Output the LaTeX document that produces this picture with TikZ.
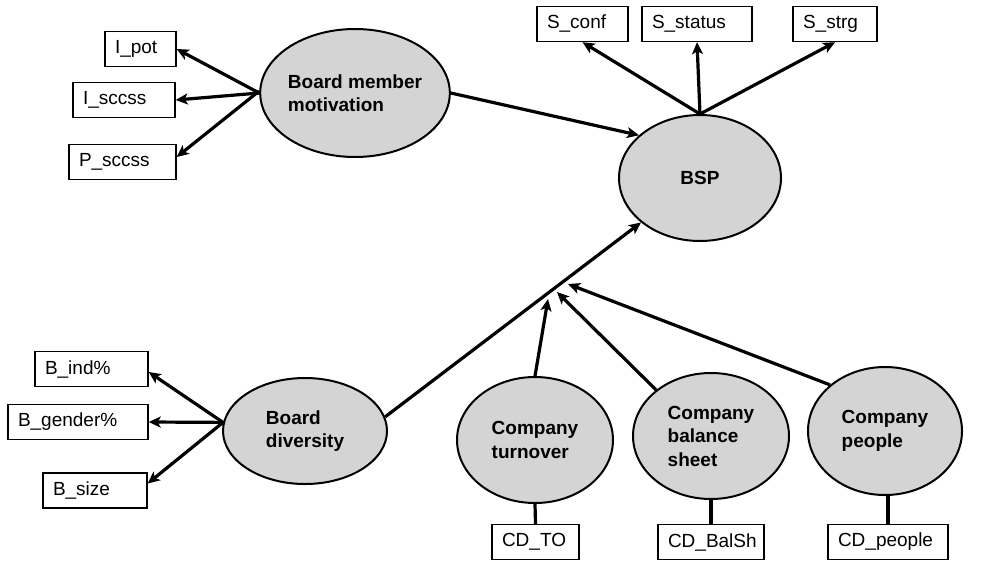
\documentclass[tikz,border=0pt]{standalone}
\usepackage{fontspec}
\setmainfont{Liberation Sans}
\usetikzlibrary{shapes.geometric,arrows.meta}

\definecolor{latentfill}{RGB}{212,212,212}

\tikzset{
  latent/.style={ellipse, draw=black, line width=2pt, fill=latentfill,
    inner sep=0pt, align=left, font=\fontsize{19}{23.5}\selectfont\bfseries},
  indicator/.style={rectangle, draw=black, line width=1.4pt, fill=white,
    inner xsep=10pt, inner ysep=0pt, minimum height=35pt, align=left,
    font=\fontsize{19}{22}\selectfont},
  link/.style={line width=3.2pt, -{Stealth[length=12pt,width=11pt,inset=3pt]}},
  tie/.style={line width=3.2pt},
}

\begin{document}
\begin{tikzpicture}[x=1pt, y=-1pt]
  \useasboundingbox (0,0) rectangle (984,563);

  % latent constructs
  \node[latent, minimum width=184pt, minimum height=128pt] (bmm) at (355,93) {Board member\\motivation};
  \node[latent, minimum width=162pt, minimum height=126pt] (bsp) at (700,178) {BSP};
  \node[latent, minimum width=164pt, minimum height=106pt] (bd)  at (305,431) {Board\\diversity};
  \node[latent, minimum width=156pt, minimum height=126pt] (ct)  at (535,440) {Company\\turnover};
  \node[latent, minimum width=156pt, minimum height=126pt] (cbs) at (711,436) {Company\\balance\\sheet};
  \node[latent, minimum width=154pt, minimum height=128pt] (cp)  at (885,431) {Company\\people};

  % measured indicators
  \node[indicator, text width=51pt]  (ipot)    at (140.5,49)  {I\_pot};
  \node[indicator, text width=82pt]  (isccss)  at (124,100)   {I\_sccss};
  \node[indicator, text width=87pt]  (psccss)  at (122.5,162) {P\_sccss};

  \node[indicator, text width=71pt]  (sconf)   at (582.5,24)  {S\_conf};
  \node[indicator, text width=90pt]  (sstatus) at (697,24)    {S\_status};
  \node[indicator, text width=64pt]  (sstrg)   at (835,24)    {S\_strg};

  \node[indicator, text width=93pt]  (bind)    at (91.5,369)  {B\_ind\%};
  \node[indicator, text width=120pt] (bgender) at (78,422)    {B\_gender\%};
  \node[indicator, text width=84pt]  (bsize)   at (95,490.5)  {B\_size};

  \node[indicator, text width=67pt]  (cdto)    at (535.5,542) {CD\_TO};
  \node[indicator, text width=86pt]  (cdbal)   at (711,542)   {CD\_BalSh};
  \node[indicator, text width=100pt] (cdpeople) at (888,542)  {CD\_people};

  % points where the control paths meet the diversity path
  \coordinate (mt) at (548,299);
  \coordinate (mb) at (557,292);
  \coordinate (mp) at (568,284);

  % reflective links
  \draw[link] (bmm.west) -- (ipot.east);
  \draw[link] (bmm.west) -- (isccss.east);
  \draw[link] ([yshift=2pt]bmm.west) -- ([yshift=5pt]psccss.east);

  \draw[link] (bsp.north) -- (sconf.south);
  \draw[link] (bsp.north) -- (sstatus.south);
  \draw[link] (bsp.north) -- (sstrg.south);

  \draw[link] (bd.174) -- ([yshift=-3pt]bind.east);
  \draw[link] (bd.174) -- (bgender.east);
  \draw[link] (bd.174) -- ([yshift=7pt]bsize.east);

  % structural paths
  \draw[link] (bmm.east) -- (bsp.145);
  \draw[link] (bd.10) -- (bsp.217);
  \draw[link] (ct.north) -- (mt);
  \draw[link] (cbs.140) -- (mb);
  \draw[link] (cp.140) -- (mp);

  % single-item measures
  \draw[tie] (ct.south) -- (cdto.north);
  \draw[tie] (cbs.south) -- (cdbal.north);
  \draw[tie] (cdpeople.north |- cp.south) -- (cdpeople.north);
\end{tikzpicture}
\end{document}
